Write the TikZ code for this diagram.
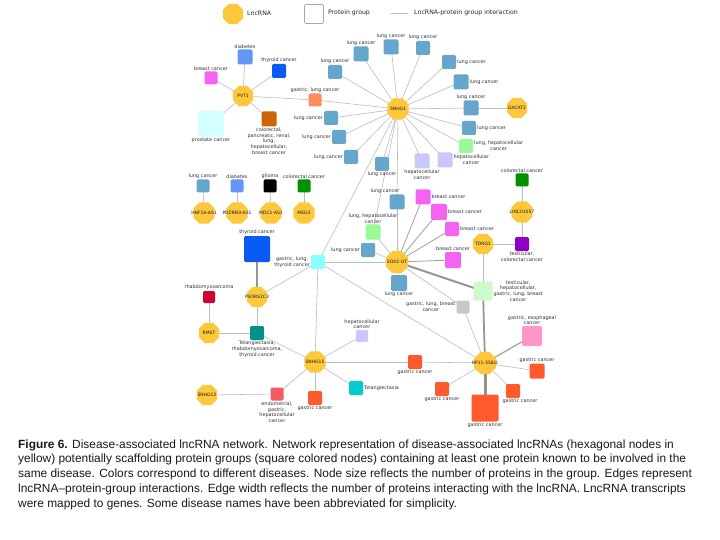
\documentclass[tikz,border=0pt]{standalone}
\usepackage{fontspec}
\setmainfont{DejaVu Sans}
\newfontfamily\capfont{Liberation Sans}
\usetikzlibrary{shapes.geometric,backgrounds}
\definecolor{lncY}{RGB}{254,200,60}
\definecolor{edgeC}{RGB}{188,188,188}
\definecolor{edgeD}{RGB}{150,150,150}
\definecolor{lung}{RGB}{102,166,204}
\definecolor{diab}{RGB}{100,150,245}
\definecolor{thyr}{RGB}{10,90,245}
\definecolor{breast}{RGB}{245,100,240}
\definecolor{prost}{RGB}{210,255,255}
\definecolor{colpanc}{RGB}{205,100,10}
\definecolor{gastlung}{RGB}{255,140,95}
\definecolor{lunghep}{RGB}{155,250,150}
\definecolor{hep}{RGB}{200,200,250}
\definecolor{colorec}{RGB}{0,145,0}
\definecolor{testcol}{RGB}{145,0,200}
\definecolor{glt}{RGB}{140,255,255}
\definecolor{tgb}{RGB}{205,250,205}
\definecolor{glb}{RGB}{200,200,200}
\definecolor{gastesoph}{RGB}{255,150,200}
\definecolor{gastric}{RGB}{255,90,45}
\definecolor{rhab}{RGB}{205,5,50}
\definecolor{trt}{RGB}{0,145,140}
\definecolor{telang}{RGB}{0,205,205}
\definecolor{endo}{RGB}{242,92,100}
\begin{document}
\begin{tikzpicture}[x=1pt,y=-1pt,
  lnc/.style={regular polygon, regular polygon sides=8, minimum size=#1, inner sep=0pt, fill=lncY},
  lnc/.default=23pt,
  nm/.style={font=\fontsize{4.5}{5}\selectfont, inner sep=0pt, text=black!90},
  sq/.style={rectangle, rounded corners=1.3pt, inner sep=0pt, minimum size=#1},
  sq/.default=14pt,
  lab/.style={font=\fontsize{4.9}{5.7}\selectfont, inner sep=0.8pt, align=center, text=black!80},
  legtxt/.style={font=\fontsize{6.2}{7}\selectfont, inner sep=0pt, text=black!85, anchor=west},
  ed/.style={draw=edgeC, line width=0.6pt},
  thk/.style={draw=edgeD, line width=#1},
  captxt/.style={font=\capfont\fontsize{11.9}{14}\selectfont, inner sep=0pt, anchor=base west, text=black!90},
]
\useasboundingbox (0,0) rectangle (720,540);

% legend
\node[lnc=22pt] (legL) at (233,14) {};
\node[legtxt] (legLt) at (247,13) {LncRNA};
\node[sq=19pt, draw=gray!70, fill=white, line width=0.6pt] (legP) at (314,14) {};
\node[legtxt] (legPt) at (328,13) {Protein group};
\coordinate (legA) at (391,13);
\coordinate (legB) at (408,13);
\node[legtxt] (legEt) at (414,13) {LncRNA-protein group interaction};

% lncRNA nodes
\node[lnc=22pt, label={[nm]center:PVT1}] (pvt1) at (243,96) {};
\node[lnc=23pt, label={[nm]center:SNHG1}] (snhg1) at (398,109) {};
\node[lnc=22pt, label={[nm]center:GACAT2}] (gacat2) at (517,108) {};
\node[lnc=23pt, label={[nm]center:HNF1A-AS1}] (hnf) at (204,213) {};
\node[lnc=23pt, label={[nm]center:PDZRN3-AS1}] (pdz) at (237,213) {};
\node[lnc=23pt, label={[nm]center:MDC1-AS1}] (mdc) at (271,213) {};
\node[lnc=23pt, label={[nm]center:MEG3}] (meg3) at (304,213) {};
\node[lnc=23pt, label={[nm]center:LINC01057}] (linc) at (522,212) {};
\node[lnc=22pt, label={[nm]center:TDRG1}] (tdrg1) at (483,244) {};
\node[lnc=24pt, label={[nm]center:SOX2-OT}] (sox2) at (397,262) {};
\node[lnc=22pt, label={[nm]center:PSORS1C3}] (psors) at (257,297) {};
\node[lnc=22pt, label={[nm]center:RMST}] (rmst) at (209,333) {};
\node[lnc=23pt, label={[nm]center:SNHG15}] (snhg15) at (315,362) {};
\node[lnc=22pt, label={[nm]center:SNHG12}] (snhg12) at (207,395) {};
\node[lnc=24pt, label={[nm]center:RP11-356I2}] (rp11) at (485,363) {};

% PVT1 group
\node[sq=15pt, fill=diab, label={[lab]above:diabetes}] (dia1) at (245,57) {};
\node[sq=14pt, fill=thyr, label={[lab]above:thyroid cancer}] (thy1) at (279,71) {};
\node[sq=13pt, fill=breast, label={[lab]above:breast cancer}] (br1) at (211,78) {};
\node[sq=26pt, fill=prost, label={[lab]below:prostate cancer}] (pro) at (211,124) {};
\node[sq=15pt, fill=colpanc, label={[lab]below:colorectal,\\pancreatic, renal,\\lung,\\hepatocellular,\\breast cancer}] (cpr) at (269,119) {};
\node[sq=13pt, fill=gastlung, label={[lab]above:gastric, lung cancer}] (gl1) at (315,100) {};

% SNHG1 lung cancer
\node[sq=15pt, fill=lung, label={[lab]above:lung cancer}] (lc1) at (391,47) {};
\node[sq=14pt, fill=lung, label={[lab]above:lung cancer}] (lc2) at (423,48) {};
\node[sq=15pt, fill=lung, label={[lab]above:lung cancer}] (lc3) at (361,54) {};
\node[sq=14pt, fill=lung, label={[lab]above:lung cancer}] (lc4) at (335,72) {};
\node[sq=14pt, fill=lung, label={[lab]right:lung cancer}] (lc5) at (449,62) {};
\node[sq=15pt, fill=lung, label={[lab]right:lung cancer}] (lc6) at (461,82) {};
\node[sq=15pt, fill=lung, label={[lab]above:lung cancer}] (lc7) at (471,108) {};
\node[sq=14pt, fill=lung, label={[lab]right:lung cancer}] (lc8) at (469,128) {};
\node[sq=14pt, fill=lung, label={[lab]left:lung cancer}] (lc9) at (331,118) {};
\node[sq=14pt, fill=lung, label={[lab]left:lung cancer}] (lc10) at (339,137) {};
\node[sq=14pt, fill=lung, label={[lab]left:lung cancer}] (lc11) at (351,157) {};
\node[sq=14pt, fill=lung, label={[lab]below:lung cancer}] (lc12) at (382,164) {};
\node[sq=15pt, fill=lung, label={[lab,xshift=-12pt]above:lung cancer}] (lc13) at (397,202) {};
\node[sq=14pt, fill=lunghep, label={[lab]right:lung, hepatocellular\\cancer}] (lhg1) at (466,146) {};
\node[sq=15pt, fill=hep, label={[lab]below:hepatocellular\\cancer}] (hp1) at (422,161) {};
\node[sq=15pt, fill=hep, label={[lab]right:hepatocellular\\cancer}] (hp2) at (445,160) {};

% row of small lncRNAs
\node[sq=13pt, fill=lung, label={[lab]above:lung cancer}] (rlc) at (203,186) {};
\node[sq=13pt, fill=diab, label={[lab]above:diabetes}] (rdi) at (237,186) {};
\node[sq=13pt, fill=black, label={[lab]above:glioma}] (rgl) at (270,186) {};
\node[sq=13pt, fill=colorec, label={[lab]above:colorectal cancer}] (rco) at (304,186) {};

% LINC01057
\node[sq=13pt, fill=colorec, label={[lab]above:colorectal cancer}] (lco) at (522,180) {};
\node[sq=14pt, fill=testcol, label={[lab]below:testicular,\\colorectal cancer}] (tco) at (522,244) {};

% SOX2-OT
\node[sq=15pt, fill=lunghep, label={[lab]above:lung, hepatocellular\\cancer}] (lhg2) at (373,232) {};
\node[sq=14pt, fill=lung, label={[lab]left:lung cancer}] (lc14) at (368,250) {};
\node[sq=16pt, fill=lung, label={[lab]below:lung cancer}] (lc15) at (399,283) {};
\node[sq=15pt, fill=breast, label={[lab]right:breast cancer}] (bc1) at (423,197) {};
\node[sq=16pt, fill=breast, label={[lab]right:breast cancer}] (bc2) at (439,212) {};
\node[sq=14pt, fill=breast, label={[lab]right:breast cancer}] (bc3) at (452,229) {};
\node[sq=16pt, fill=breast, label={[lab]above:breast cancer}] (bc4) at (453,260) {};
\node[sq=14pt, fill=glt, label={[lab]left:gastric, lung,\\thyroid cancer}] (gltn) at (318,262) {};
\node[sq=19pt, fill=tgb, label={[lab]right:testicular,\\hepatocellular,\\gastric, lung, breast\\cancer}] (tgbn) at (483,291) {};
\node[sq=13pt, fill=glb, label={[lab]left:gastric, lung, breast\\cancer}] (glbn) at (463,307) {};

% PSORS1C3 / RMST
\node[sq=26pt, fill=thyr, label={[lab]above:thyroid cancer}] (thy2) at (257,249) {};
\node[sq=14pt, fill=trt, label={[lab]below:Telangiectasia,\\rhabdomyosarcoma,\\thyroid cancer}] (trtn) at (257,333) {};
\node[sq=12pt, fill=rhab, label={[lab]above:rhabdomyosarcoma}] (rhabn) at (209,297) {};

% SNHG15
\node[sq=12pt, fill=hep, label={[lab]above:hepatocellular\\cancer}] (hp3) at (362,336) {};
\node[sq=14pt, fill=gastric, label={[lab]below:gastric cancer}] (gc1) at (415,362) {};
\node[sq=14pt, fill=telang, label={[lab]right:Telangiectasia}] (tel) at (356,388) {};
\node[sq=14pt, fill=gastric, label={[lab]below:gastric cancer}] (gc2) at (315,398) {};
\node[sq=13pt, fill=endo, label={[lab]below:endometrial,\\gastric,\\hepatocellular\\cancer}] (endon) at (277,394) {};

% RP11-356I2
\node[sq=20pt, fill=gastesoph, label={[lab]above:gastric, esophageal\\cancer}] (ge) at (532,336) {};
\node[sq=15pt, fill=gastric, label={[lab]above:gastric cancer}] (gc3) at (537,371) {};
\node[sq=14pt, fill=gastric, label={[lab,xshift=7pt]below:gastric cancer}] (gc4) at (513,391) {};
\node[sq=27pt, fill=gastric, label={[lab]below:gastric cancer}] (gc5) at (485,408) {};
\node[sq=14pt, fill=gastric, label={[lab]below:gastric cancer}] (gc6) at (442,389) {};

% caption
\node[captxt] (cap1) at (18,448) {{\bfseries Figure 6.} Disease-associated lncRNA network. Network representation of disease-associated lncRNAs (hexagonal nodes in};
\node[captxt] (cap2) at (18,462.75) {yellow) potentially scaffolding protein groups (square colored nodes) containing at least one protein known to be involved in the};
\node[captxt] (cap3) at (18,477.5) {same disease. Colors correspond to different diseases. Node size reflects the number of proteins in the group. Edges represent};
\node[captxt] (cap4) at (18,492.25) {lncRNA–protein-group interactions. Edge width reflects the number of proteins interacting with the lncRNA. LncRNA transcripts};
\node[captxt] (cap5) at (18,507) {were mapped to genes. Some disease names have been abbreviated for simplicity.};

\begin{pgfonlayer}{background}
\fill[white] (0,0) rectangle (720,540);
\draw[ed, line width=0.8pt] (legA) -- (legB);
\foreach \t in {dia1,thy1,br1,pro,cpr,gl1} \draw[ed] (pvt1.center) -- (\t.center);
\foreach \t in {gl1,lc1,lc2,lc3,lc4,lc5,lc6,lc7,lc8,lc9,lc10,lc11,lc12,lc13,lhg1,hp1,hp2,gltn,lhg2} \draw[ed] (snhg1.center) -- (\t.center);
\draw[ed] (gacat2.center) -- (lc7.center);
\draw[ed] (hnf.center) -- (rlc.center);
\draw[ed] (pdz.center) -- (rdi.center);
\draw[ed] (mdc.center) -- (rgl.center);
\draw[ed] (meg3.center) -- (rco.center);
\draw[ed] (linc.center) -- (lco.center);
\draw[ed] (linc.center) -- (tco.center);
\draw[ed] (tdrg1.center) -- (tco.center);
\draw[ed, line width=0.8pt] (tdrg1.center) -- (tgbn.center);
\foreach \t in {lc13,lhg2,lc14,lc15,gltn,glbn} \draw[ed] (sox2.center) -- (\t.center);
\foreach \t in {bc1,bc2,bc3,bc4} \draw[thk=0.8pt, draw=gray!75] (sox2.center) -- (\t.center);
\draw[thk=2pt] (sox2.center) -- (tgbn.center);
\draw[thk=1.8pt] (rp11.center) -- (tgbn.center);
\draw[thk=3pt, draw=gray!85] (rp11.center) -- (gc5.center);
\draw[thk=1.3pt, draw=gray!70] (rp11.center) -- (ge.center);
\foreach \t in {gc1,gc3,gc4,gc6,glbn,gltn} \draw[ed] (rp11.center) -- (\t.center);
\draw[thk=2.2pt] (psors.center) -- (thy2.center);
\draw[ed] (psors.center) -- (gltn.center);
\draw[ed] (psors.center) -- (trtn.center);
\draw[ed] (rmst.center) -- (rhabn.center);
\draw[ed] (rmst.center) -- (trtn.center);
\foreach \t in {trtn,gltn,hp3,gc1,tel,gc2,endon} \draw[ed] (snhg15.center) -- (\t.center);
\draw[ed] (snhg12.center) -- (endon.center);
\end{pgfonlayer}
\end{tikzpicture}
\end{document}
